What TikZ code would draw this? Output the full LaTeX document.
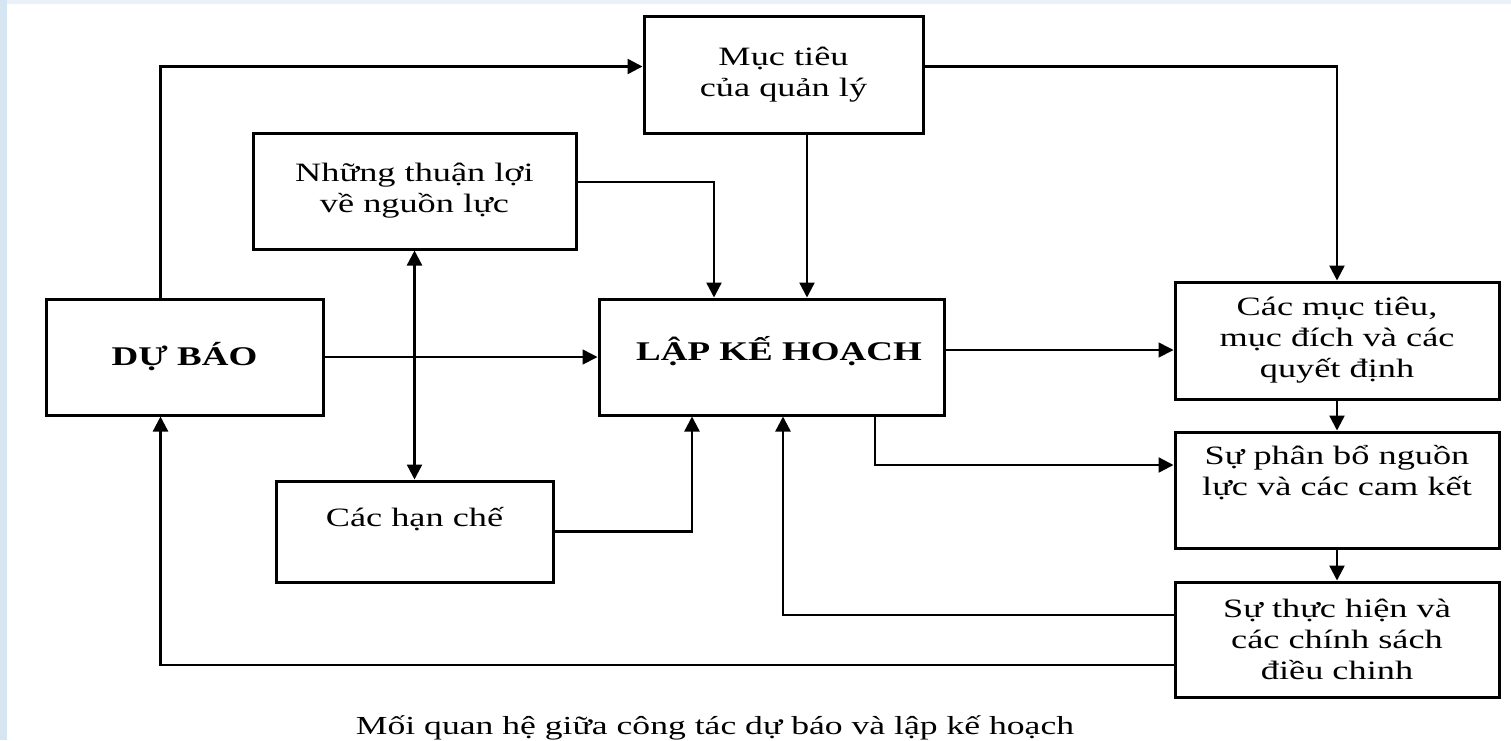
\documentclass[tikz,border=0pt]{standalone}
\usepackage{fontspec}
\setmainfont[FakeStretch=1.37]{Liberation Serif}
\usetikzlibrary{arrows.meta}
\definecolor{slideblue}{RGB}{214,229,242}
\definecolor{slidetop}{RGB}{234,241,248}

\begin{document}
\begin{tikzpicture}[x=1pt,y=-1pt,
    box/.style={draw, line width=3pt, align=center, inner sep=0pt,
        font=\fontsize{26.5}{31}\selectfont},
    bigbox/.style={box, font=\fontsize{27}{31}\selectfont\bfseries},
    arr/.style={line width=2.4pt, -{Triangle[length=15pt,width=15pt]}},
    thinarr/.style={arr, line width=1.6pt},
    dblarr/.style={arr, {Triangle[length=15pt,width=15pt]}-{Triangle[length=15pt,width=15pt]}},
    caption/.style={font=\fontsize{26}{31}\selectfont, inner sep=0pt}]

    % background (slide)
    \useasboundingbox (0,0) rectangle (1511,740);
    \fill[slidetop] (0,0) rectangle (1511,740);
    \fill[slideblue] (0,0) rectangle (7,740);
    \fill[white] (7,4) rectangle (1511,740);

    % nodes (boxes)
    \node[bigbox, minimum width=277pt, minimum height=116pt] (duBao) at (184.5,357) {DỰ BÁO};
    \node[box, minimum width=279pt, minimum height=117pt] (mucTieu) at (783.5,74.5) {Mục tiêu\\của quản lý};
    \node[box, minimum width=323pt, minimum height=116pt] (thuanLoi) at (414.5,191) {Những thuận lợi\\về nguồn lực};
    \node[box, minimum width=277pt, minimum height=101pt, text depth=29pt] (hanChe) at (414.5,531.5) {Các hạn chế};
    \node[bigbox, minimum width=345pt, minimum height=116pt, text depth=17pt] (lapKH) at (771.5,357) {\hspace*{15pt}LẬP KẾ HOẠCH};
    \node[box, minimum width=324pt, minimum height=117pt] (cacMucTieu) at (1337,340.5) {Các mục tiêu,\\mục đích và các\\quyết định};
    \node[box, minimum width=324pt, minimum height=116pt] (phanBo) at (1337,490) {Sự phân bổ nguồn\\lực và các cam kết\\[8pt]};
    \node[box, minimum width=324pt, minimum height=115pt] (thucHien) at (1337,639.5) {Sự thực hiện và\\các chính sách\\điều chinh};

    % caption
    \node[caption, anchor=base] (caption) at (715,734) {Mối quan hệ giữa công tác dự báo và lập kế hoạch};

    % helper coordinates (columns and rows of the connectors)
    \coordinate (colA) at (160.5,0);
    \coordinate (colC) at (692,0);
    \coordinate (colD) at (714,0);
    \coordinate (colE) at (783,0);
    \coordinate (colF) at (807,0);
    \coordinate (colG) at (875,0);
    \coordinate (rowA) at (0,66.5);
    \coordinate (rowB) at (0,182);
    \coordinate (rowD) at (0,465);
    \coordinate (rowE) at (0,615);
    \coordinate (rowF) at (0,665);
    \coordinate (rowG) at (0,350);

    % edges
    \draw[arr] (duBao.north -| colA) |- (mucTieu.west |- rowA); % du bao -> muc tieu
    \draw[arr] (mucTieu.east |- rowA) -| (cacMucTieu.north); % muc tieu -> cac muc tieu
    \draw[arr] (mucTieu.south -| colF) -- (lapKH.north -| colF); % muc tieu -> lap KH
    \draw[arr] (thuanLoi.east |- rowB) -| (lapKH.north -| colD); % thuan loi -> lap KH
    \draw[thinarr] (duBao) -- (lapKH); % du bao -> lap KH
    \draw[dblarr] (thuanLoi) -- (hanChe); % thuan loi <-> han che
    \draw[arr] (hanChe.east) -| (lapKH.south -| colC); % han che -> lap KH
    \draw[arr] (lapKH.south -| colG) |- (phanBo.west |- rowD); % lap KH -> phan bo
    \draw[thinarr] (lapKH.east |- rowG) -- (cacMucTieu.west |- rowG); % lap KH -> cac muc tieu
    \draw[arr] (cacMucTieu) -- (phanBo); % cac muc tieu -> phan bo
    \draw[arr] (phanBo) -- (thucHien); % phan bo -> thuc hien
    \draw[arr] (thucHien.west |- rowE) -| (lapKH.south -| colE); % thuc hien -> lap KH
    \draw[arr] (thucHien.west |- rowF) -| (duBao.south -| colA); % thuc hien -> du bao

\end{tikzpicture}
\end{document}
